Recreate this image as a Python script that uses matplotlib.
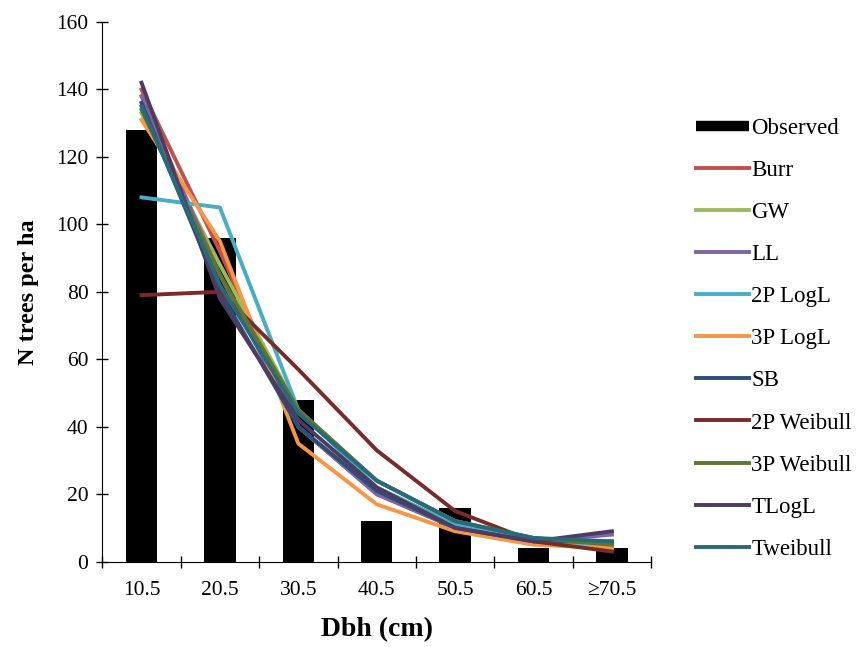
import numpy as np
import matplotlib
matplotlib.use("Agg")
import matplotlib.pyplot as plt
from matplotlib.lines import Line2D

plt.rcParams['font.family'] = ['Liberation Serif', 'DejaVu Serif']

# Diameter classes
classes = ['10.5', '20.5', '30.5', '40.5', '50.5', '60.5', '\u226570.5']
observed = [128, 96, 48, 12, 16, 4, 4]

# Fitted distributions (N trees per ha)
burr = [140, 92, 40, 20, 10, 6, 4]
gw = [133, 88, 45, 24, 12, 7, 5]
ll = [138, 85, 40, 20, 10, 6, 8]
logl_2p = [108, 105, 45, 22, 11, 6, 5]
logl_3p = [131, 95, 35, 17, 9, 5, 4]
sb = [136, 80, 40, 21, 10, 6, 6]
weibull_2p = [79, 80, 57, 33, 15, 6, 3]
weibull_3p = [134, 85, 45, 24, 12, 7, 5]
tlogl = [142, 78, 42, 22, 10, 6, 9]
tweibull = [135, 82, 44, 24, 12, 7, 6]

names = ['Burr', 'GW', 'LL', '2P LogL', '3P LogL', 'SB',
         '2P Weibull', '3P Weibull', 'TLogL', 'Tweibull']
series = [burr, gw, ll, logl_2p, logl_3p, sb,
          weibull_2p, weibull_3p, tlogl, tweibull]
colors = ['#C0504D', '#9BBB59', '#8064A2', '#4BACC6', '#F79646', '#2C4D75',
          '#772C2A', '#5F7530', '#4D3B62', '#276A7C']

fig = plt.figure(figsize=(8.67, 6.47), dpi=100)
ax = fig.add_axes([0.118, 0.132, 0.633, 0.834])

x = np.arange(len(classes))
ax.bar(x, observed, width=0.4, color='black', zorder=2)
handles = [Line2D([], [], color='black', lw=7.5, solid_capstyle='butt')]
for name, vals, c in zip(names, series, colors):
    h, = ax.plot(x, vals, color=c, lw=2.8, zorder=3)
    handles.append(h)

ax.set_xlim(-0.5, len(classes) - 0.5)
ax.set_ylim(0, 160)
ax.set_yticks(range(0, 161, 20))
ax.tick_params(axis='y', direction='inout', length=8, labelsize=15.5, width=1, pad=6)

# boundary ticks (major) and labels at class centres (minor)
ax.set_xticks(np.arange(-0.5, len(classes), 1.0))
ax.set_xticklabels([])
ax.set_xticks(x, minor=True)
ax.set_xticklabels(classes, minor=True, fontsize=15.5)
ax.tick_params(axis='x', which='major', direction='inout', length=8, width=1)
ax.tick_params(axis='x', which='minor', length=0, pad=14)

ax.spines['top'].set_visible(False)
ax.spines['right'].set_visible(False)

ax.set_xlabel('Dbh (cm)', fontsize=20, fontweight='bold', labelpad=12)
ax.set_ylabel('N trees per ha', fontsize=17.5, fontweight='bold', labelpad=12)

ax.legend(handles, ['Observed'] + names, loc='center left',
          bbox_to_anchor=(1.045, 0.413), frameon=False, fontsize=16.5,
          handlelength=2.3, handletextpad=0.1, labelspacing=0.92)

fig.savefig('out.png', dpi=100)
